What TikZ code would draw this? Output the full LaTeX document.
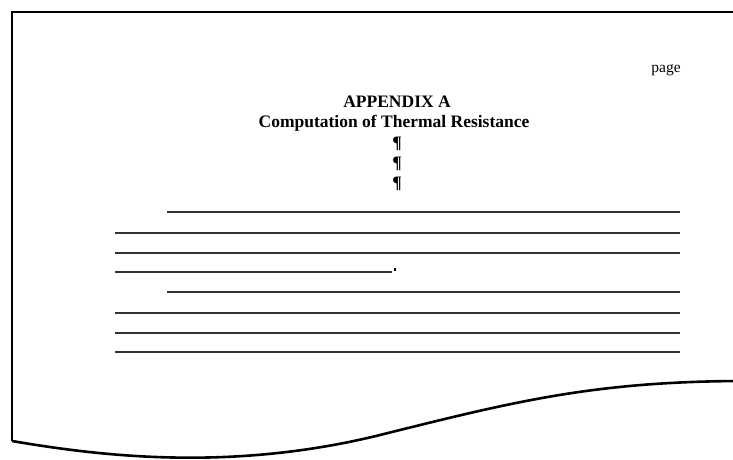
\documentclass[tikz,border=0pt]{standalone}
\usepackage{fontspec}
\setmainfont{Liberation Serif}
\begin{document}
\begin{tikzpicture}[x=1pt,y=-1pt,
  frame/.style={line width=2.6pt,black,line join=miter},
  rule/.style={line width=1.1pt,black!80},
  title/.style={font=\fontsize{17.5}{20}\selectfont\bfseries,inner sep=0pt,anchor=base},
  para/.style={font=\fontsize{17.5}{20}\selectfont\bfseries,inner sep=0pt,anchor=base}]
\useasboundingbox (0,0) rectangle (733,459);
% page outline
\draw[frame] (12,441) -- (12,12) -- (760,12);
\draw[frame] (12,441)
  .. controls (100,456) and (230,472) .. (380,435)
  .. controls (520,400) and (600,380) .. (760,381);
% texts
\node[font=\fontsize{15.5}{18}\selectfont,inner sep=0pt,anchor=base] (pg) at (666,72) {page};
\node[title] (t1) at (397,107) {APPENDIX A};
\node[title] (t2) at (394,127) {Computation of Thermal Resistance};
\node[para] (p1) at (397,148) {¶};
\node[para] (p2) at (397,168) {¶};
\node[para] (p3) at (397,188) {¶};
% text lines
\draw[rule] (167,212) -- (680,212);
\draw[rule] (115,233) -- (680,233);
\draw[rule] (115,253) -- (680,253);
\draw[rule] (115,272) -- (392,272);
\fill[black] (393.5,268) rectangle (396,270.5);
\draw[rule] (167,292) -- (680,292);
\draw[rule] (115,313) -- (680,313);
\draw[rule] (115,333) -- (680,333);
\draw[rule] (115,352) -- (680,352);
\end{tikzpicture}
\end{document}
